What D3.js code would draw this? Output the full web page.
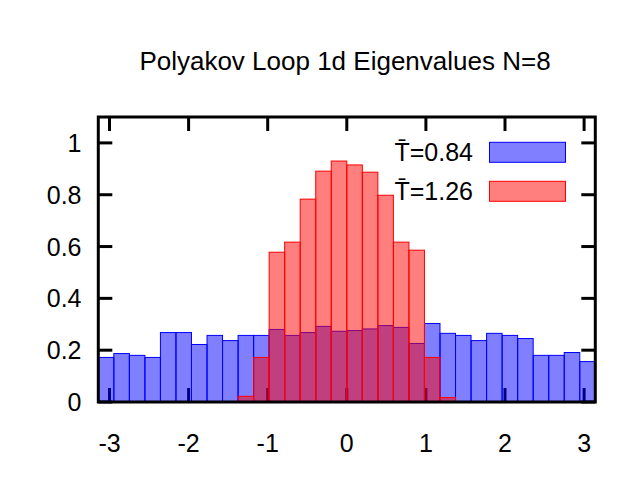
<!DOCTYPE html>
<html>
<head>
  <meta charset="utf-8">
  <script src="https://d3js.org/d3.v7.min.js"></script>
  <style>
    body { margin: 0; background: #fff; }
    text { font-family: "Liberation Sans", Arial, sans-serif; fill: #000; }
  </style>
</head>
<body>
<script>
  "use strict";

  // histogram of eigenvalue phases, 32 bins over [-pi, pi]
  var nBins = 32;
  var coldLabel = "T\u0304=0.84";
  var hotLabel = "T\u0304=1.26";
  var coldValues = [0.172, 0.187, 0.180, 0.172, 0.268, 0.268, 0.222, 0.257,
                    0.237, 0.257, 0.257, 0.280, 0.257, 0.268, 0.292, 0.273,
                    0.276, 0.282, 0.295, 0.288, 0.226, 0.303, 0.265, 0.257,
                    0.237, 0.265, 0.257, 0.245, 0.180, 0.180, 0.191, 0.156];
  var hotValues = [0, 0, 0, 0, 0, 0, 0, 0,
                   0, 0.022, 0.172, 0.578, 0.617, 0.783, 0.891, 0.930,
                   0.915, 0.887, 0.798, 0.617, 0.586, 0.172, 0.017, 0,
                   0, 0, 0, 0, 0, 0, 0, 0];
  var xTicks = [-3, -2, -1, 0, 1, 2, 3];
  var yTicks = [0, 0.2, 0.4, 0.6, 0.8, 1];

  var width = 640, height = 480;
  var plotL = 98.3, plotR = 595.3, plotT = 117, plotB = 402;

  var svg = d3.select("body").append("svg")
      .attr("width", width)
      .attr("height", height);

  var x = d3.scaleLinear().domain([-Math.PI, Math.PI]).range([plotL, plotR]);
  var y = d3.scaleLinear().domain([0, 1.1]).range([plotB, plotT]);
  var binW = 2 * Math.PI / nBins;

  // title
  svg.append("text")
      .attr("x", 345)
      .attr("y", 70)
      .attr("text-anchor", "middle")
      .style("font-size", "26px")
      .text("Polyakov Loop 1d Eigenvalues N=8");

  // ticks go under the bars (gnuplot draws them first)
  var ticks = svg.append("g").attr("stroke", "#000").attr("stroke-width", 3);
  ticks.selectAll(".xb").data(xTicks).enter().append("line")
      .attr("x1", x).attr("x2", x)
      .attr("y1", plotB).attr("y2", plotB - 14);
  ticks.selectAll(".xt").data(xTicks).enter().append("line")
      .attr("x1", x).attr("x2", x)
      .attr("y1", plotT).attr("y2", plotT + 14);
  ticks.selectAll(".yl").data(yTicks).enter().append("line")
      .attr("y1", y).attr("y2", y)
      .attr("x1", plotL).attr("x2", plotL + 14);
  ticks.selectAll(".yr").data(yTicks).enter().append("line")
      .attr("y1", y).attr("y2", y)
      .attr("x1", plotR).attr("x2", plotR - 14);

  function drawBars(values, color) {
    svg.append("g").selectAll("rect")
        .data(values.map(function (v, i) { return {i: i, v: v}; })
                    .filter(function (d) { return d.v > 0; }))
        .enter().append("rect")
        .attr("x", function (d) { return x(-Math.PI + d.i * binW); })
        .attr("width", function (d) { return x(-Math.PI + (d.i + 1) * binW) - x(-Math.PI + d.i * binW); })
        .attr("y", function (d) { return y(d.v); })
        .attr("height", function (d) { return y(0) - y(d.v); })
        .attr("fill", color)
        .attr("fill-opacity", 0.5)
        .attr("stroke", color)
        .attr("stroke-width", 1);
  }
  drawBars(coldValues, "#0000ff");
  drawBars(hotValues, "#ff0000");

  // border
  svg.append("rect")
      .attr("x", plotL).attr("y", plotT)
      .attr("width", plotR - plotL).attr("height", plotB - plotT)
      .attr("fill", "none")
      .attr("stroke", "#000")
      .attr("stroke-width", 3);

  // tick labels
  svg.append("g").selectAll("text").data(xTicks).enter().append("text")
      .attr("x", x)
      .attr("y", 452)
      .attr("text-anchor", "middle")
      .style("font-size", "25px")
      .text(function (d) { return d; });
  svg.append("g").selectAll("text").data(yTicks).enter().append("text")
      .attr("x", 81.5)
      .attr("y", function (d) { return y(d) + 9; })
      .attr("text-anchor", "end")
      .style("font-size", "25px")
      .text(function (d) { return d; });

  // legend
  var legend = [{label: coldLabel, color: "#0000ff"}, {label: hotLabel, color: "#ff0000"}];
  var lg = svg.append("g").selectAll("g").data(legend).enter().append("g")
      .attr("transform", function (d, i) { return "translate(0," + (i * 39) + ")"; });
  lg.append("text")
      .attr("x", 473)
      .attr("y", 161)
      .attr("text-anchor", "end")
      .style("font-size", "25px")
      .text(function (d) { return d.label; });
  lg.append("rect")
      .attr("x", 489.5).attr("y", 142.3)
      .attr("width", 76).attr("height", 20)
      .attr("fill", function (d) { return d.color; })
      .attr("fill-opacity", 0.5)
      .attr("stroke", function (d) { return d.color; })
      .attr("stroke-width", 1);
</script>
</body>
</html>
